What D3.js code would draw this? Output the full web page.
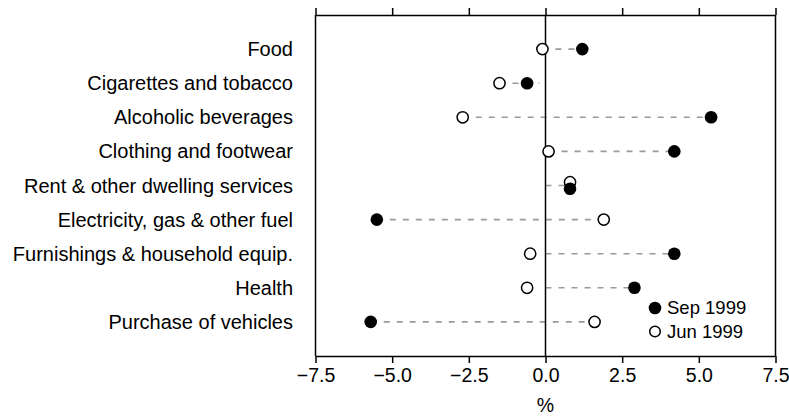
<!DOCTYPE html>
<html>
<head>
<meta charset="utf-8">
<script src="https://cdn.jsdelivr.net/npm/d3@7"></script>
<style>
  body { margin: 0; background: #fff; }
  text { font-family: "Liberation Sans", Arial, sans-serif; fill: #000; }
</style>
</head>
<body>
<div id="main"></div>
<script>
// categories, top to bottom
var categories = [
    "Food",
    "Cigarettes and tobacco",
    "Alcoholic beverages",
    "Clothing and footwear",
    "Rent & other dwelling services",
    "Electricity, gas & other fuel",
    "Furnishings & household equip.",
    "Health",
    "Purchase of vehicles"
];

// percent change
var sep1999 = [1.2, -0.6, 5.4, 4.2, 0.8, -5.5, 4.2, 2.9, -5.7];
var jun1999 = [-0.1, -1.5, -2.7, 0.1, 0.8, 1.9, -0.5, -0.6, 1.6];

// extent of the dashed guide on each row
var guideLo = [-0.1, -1.5, -2.7, 0.1, 0.0, -5.5, 0.0, 0.0, -5.7];
var guideHi = [1.2, -0.2, 5.4, 4.2, 0.8, 1.9, 4.2, 2.9, 1.6];

var xTicks = [-7.5, -5, -2.5, 0, 2.5, 5, 7.5];
var seriesNames = ["Sep 1999", "Jun 1999"];

var width = 789, height = 416;
// note: "top" is taken by window.top, so prefix these
var plotLeft = 315.5, plotRight = 775.5, plotTop = 15, plotBottom = 356;

var svg = d3.select("#main")
        .append("svg")
        .attr("width", width)
        .attr("height", height);

var x = d3.scaleLinear().domain([-7.5, 7.5]).range([plotLeft, plotRight]);
var y = d3.scalePoint().domain(categories).range([plotTop, plotBottom]).padding(1);

var rows = categories.map(function(c, i) {
    var same = sep1999[i] === jun1999[i];
    return {
        name: c,
        sep: sep1999[i],
        jun: jun1999[i],
        lo: guideLo[i],
        hi: guideHi[i],
        nudge: same ? 3.3 : 0
    };
});

// dashed guides
svg.append("g")
    .selectAll("line")
    .data(rows)
    .enter()
    .append("line")
    .attr("x1", function(d) { return x(d.lo); })
    .attr("x2", function(d) { return x(d.hi); })
    .attr("y1", function(d) { return y(d.name); })
    .attr("y2", function(d) { return y(d.name); })
    .attr("stroke", "#9a9a9a")
    .attr("stroke-width", 1.6)
    .attr("stroke-dasharray", "6,7");

// zero line
svg.append("line")
    .attr("x1", x(0)).attr("x2", x(0))
    .attr("y1", plotTop).attr("y2", plotBottom)
    .attr("stroke", "#000")
    .attr("stroke-width", 1.5);

// frame sides
[plotLeft, plotRight].forEach(function(px) {
    svg.append("line")
        .attr("x1", px).attr("x2", px)
        .attr("y1", plotTop).attr("y2", plotBottom)
        .attr("stroke", "#000")
        .attr("stroke-width", 1.5);
});

var fmt = d3.format(".1f");

var xAxis = svg.append("g")
        .attr("transform", "translate(0," + plotBottom + ")")
        .call(d3.axisBottom(x).tickValues(xTicks).tickFormat(fmt)
              .tickSize(7).tickSizeOuter(0).tickPadding(5));

var xAxisTop = svg.append("g")
        .attr("transform", "translate(0," + plotTop + ")")
        .call(d3.axisTop(x).tickValues(xTicks).tickFormat("")
              .tickSize(7).tickSizeOuter(0));

[xAxis, xAxisTop].forEach(function(g) {
    g.selectAll("path, line").attr("stroke", "#000").attr("stroke-width", 1.5);
});
xAxis.selectAll("text")
    .style("font-family", "'Liberation Sans', Arial, sans-serif")
    .style("font-size", "19.5px")
    .attr("fill", "#000");

svg.append("text")
    .attr("x", x(0))
    .attr("y", 405)
    .attr("dy", "0.35em")
    .attr("text-anchor", "middle")
    .style("font-size", "19.5px")
    .text("%");

// category labels
svg.append("g")
    .selectAll("text")
    .data(rows)
    .enter()
    .append("text")
    .attr("x", 293)
    .attr("y", function(d) { return y(d.name); })
    .attr("dy", "0.35em")
    .attr("text-anchor", "end")
    .style("font-size", "20px")
    .text(function(d) { return d.name; });

// Jun 1999 (open)
svg.append("g")
    .selectAll("circle")
    .data(rows)
    .enter()
    .append("circle")
    .attr("cx", function(d) { return x(d.jun); })
    .attr("cy", function(d) { return y(d.name) - d.nudge; })
    .attr("r", 5.6)
    .attr("fill", "#fff")
    .attr("stroke", "#000")
    .attr("stroke-width", 1.5);

// Sep 1999 (filled)
svg.append("g")
    .selectAll("circle")
    .data(rows)
    .enter()
    .append("circle")
    .attr("cx", function(d) { return x(d.sep); })
    .attr("cy", function(d) { return y(d.name) + d.nudge; })
    .attr("r", 6.3)
    .attr("fill", "#000");

// legend
var legend = svg.append("g").attr("transform", "translate(655,308)");
seriesNames.forEach(function(name, i) {
    var g = legend.append("g").attr("transform", "translate(0," + (i * 23.5) + ")");
    if (i === 0) {
        g.append("circle").attr("r", 6.3).attr("fill", "#000");
    } else {
        g.append("circle").attr("r", 5.3).attr("fill", "#fff")
            .attr("stroke", "#000").attr("stroke-width", 1.5);
    }
    g.append("text")
        .attr("x", 12)
        .attr("dy", "0.35em")
        .style("font-size", "18.5px")
        .text(name);
});
</script>
</body>
</html>
